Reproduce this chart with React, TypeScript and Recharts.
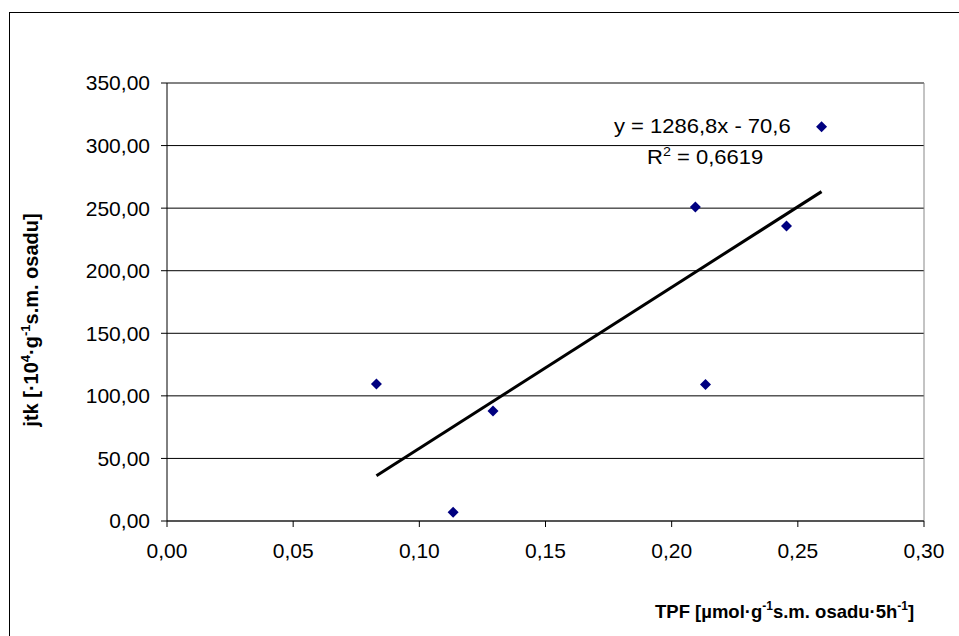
import React from 'react';
import { ScatterChart, Scatter, XAxis, YAxis, CartesianGrid, ReferenceLine, Customized } from 'recharts';

const tpfValues = [0.083, 0.1134, 0.1292, 0.2094, 0.2134, 0.2455, 0.2594];
const jtkValues = [109.4, 7.0, 87.8, 251.0, 109.0, 235.8, 315.0];
const trendX = [0.083, 0.2594];
const trendY = [36.2, 263.2];
const xTicks = [0, 0.05, 0.1, 0.15, 0.2, 0.25, 0.3];
const yTicks = [0, 50, 100, 150, 200, 250, 300, 350];
const equationText = 'y = 1286,8x - 70,6';
const r2Text = '0,6619';

const points = tpfValues.map((x, i) => ({ x, y: jtkValues[i] }));
const trend = trendX.map((x, i) => ({ x, y: trendY[i] }));

const FONT = '"Liberation Sans", Arial, sans-serif';
const fmt = (v: number) => v.toFixed(2).replace('.', ',');

const Diamond = (props: any) => {
  const { cx, cy } = props;
  if (cx == null || cy == null) return null;
  const r = 5.5;
  return <polygon points={`${cx},${cy - r} ${cx + r},${cy} ${cx},${cy + r} ${cx - r},${cy}`} fill="#000080" />;
};

const Labels = () => (
  <g fontFamily={FONT} fill="#000">
    <text transform="translate(614,133) scale(1.1,1)" fontSize={20}>{equationText}</text>
    <text transform="translate(647,164) scale(1.1,1)" fontSize={20}>
      R<tspan dy={-8} fontSize={13}>2</tspan><tspan dy={8}> = {r2Text}</tspan>
    </text>
    <text transform="translate(655,618)" fontSize={18.5} fontWeight="bold">
      TPF [µmol·g<tspan dy={-8} fontSize={12}>-1</tspan><tspan dy={8}>s.m. osadu·5h</tspan><tspan dy={-8} fontSize={12}>-1</tspan><tspan dy={8}>]</tspan>
    </text>
    <text transform="translate(38,320) rotate(-90)" textAnchor="middle" fontSize={20} fontWeight="bold">
      jtk [·10<tspan dy={-8} fontSize={13}>4</tspan><tspan dy={8}>·g</tspan><tspan dy={-8} fontSize={13}>-1</tspan><tspan dy={8}>s.m. osadu]</tspan>
    </text>
  </g>
);

export default function App() {
  return (
    <div style={{ position: 'relative', width: 959, height: 636, overflow: 'hidden', background: '#fff' }}>
      <style>{`body{margin:0;}`}</style>
      <div style={{ position: 'absolute', left: 9, top: 12, width: 1000, height: 700, border: '1px solid #000', boxSizing: 'border-box' }} />
      <div style={{ position: 'absolute', left: 0, top: 0 }}>
        <ScatterChart width={959} height={636} margin={{ top: 83, right: 35, bottom: 85, left: 87 }}>
          <CartesianGrid horizontal vertical={false} stroke="#000" strokeWidth={1} />
          <XAxis
            type="number"
            dataKey="x"
            domain={[0, 0.3]}
            ticks={xTicks}
            tickFormatter={fmt}
            height={30}
            tickSize={6}
            tickMargin={16}
            axisLine={{ stroke: '#555', strokeWidth: 2 }}
            tickLine={{ stroke: '#000' }}
            tick={{ fill: '#000', fontSize: 21, fontFamily: FONT }}
            allowDataOverflow
          />
          <YAxis
            type="number"
            dataKey="y"
            domain={[0, 350]}
            ticks={yTicks}
            tickFormatter={fmt}
            width={80}
            tickSize={6}
            tickMargin={11}
            axisLine={{ stroke: '#000', strokeWidth: 1 }}
            tickLine={{ stroke: '#000' }}
            tick={{ fill: '#000', fontSize: 21, fontFamily: FONT }}
            allowDataOverflow
          />
          <ReferenceLine x={0.3} stroke="#888" strokeWidth={1} />
          <ReferenceLine y={350} stroke="#888" strokeWidth={1} />
          <Scatter data={trend} line={{ stroke: '#000', strokeWidth: 3 }} shape={() => null} isAnimationActive={false} />
          <Scatter data={points} shape={<Diamond />} isAnimationActive={false} />
          <Customized component={Labels} />
        </ScatterChart>
      </div>
    </div>
  );
}
